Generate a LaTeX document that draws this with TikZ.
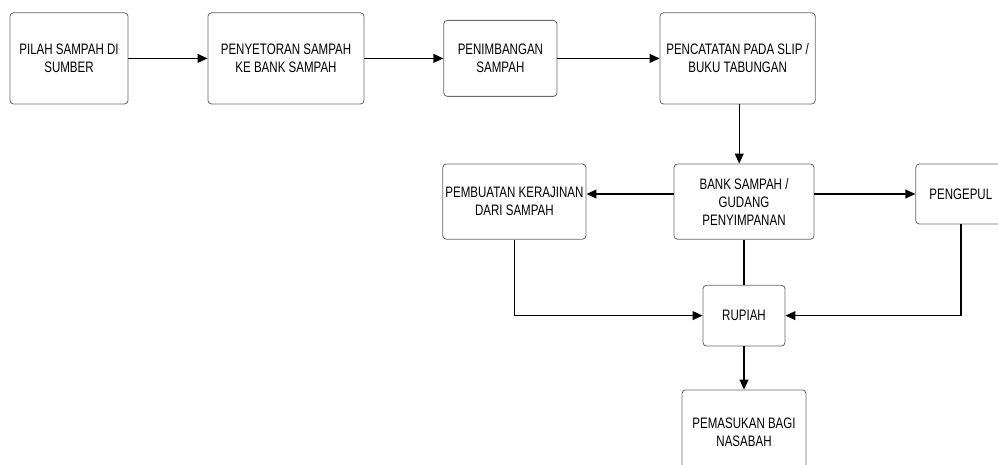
\documentclass[tikz,border=0pt]{standalone}
\usepackage{fontspec}
\setmainfont{Liberation Sans}[FakeStretch=0.76]
\usepackage{tikz}
\usetikzlibrary{positioning, calc}
\usetikzlibrary{arrows.meta}

\begin{document}
\begin{tikzpicture}[
  box/.style={draw=bordergray, line width=0.6pt, rounded corners=2.5pt, fill=white, align=center,
    inner sep=0pt, font=\fontsize{10.8}{12.8}\selectfont},
  flow/.style={line width=1pt, -{Triangle[length=2.5mm,width=2.2mm]}},
  plain/.style={line width=1pt}
]
\definecolor{bordergray}{RGB}{105,105,105};
\useasboundingbox (0,0) rectangle (24.95,-11.6);
% baris atas
\node[box, minimum width=2.95cm, minimum height=2.28cm] (pilah) at (1.725,-1.46) {PILAH SAMPAH DI\\SUMBER};
\node[box, minimum width=3.9cm, minimum height=2.28cm] (setor) at (7.15,-1.46) {PENYETORAN SAMPAH\\KE BANK SAMPAH};
\node[box, minimum width=2.83cm, minimum height=1.9cm] (timbang) at (12.51,-1.46) {PENIMBANGAN\\SAMPAH};
\node[box, minimum width=3.88cm, minimum height=2.28cm] (catat) at (18.44,-1.46) {PENCATATAN PADA SLIP /\\BUKU TABUNGAN};
% baris tengah
\node[box, minimum width=3.5cm, minimum height=1.88cm] (bank) at (18.6,-5.04) {BANK SAMPAH /\\GUDANG\\PENYIMPANAN};
\node[box, minimum width=3.58cm, minimum height=1.88cm] (kerajinan) at (12.86,-5.04) {PEMBUATAN KERAJINAN\\DARI SAMPAH};
\node[box, minimum width=2.25cm, minimum height=1.5cm] (pengepul) at (24.02,-4.85) {PENGEPUL};
% baris bawah
\node[box, minimum width=2.05cm, minimum height=1.52cm] (rupiah) at (18.6,-7.89) {RUPIAH};
\node[box, minimum width=3.1cm, minimum height=2.1cm] (masuk) at (18.6,-10.8) {PEMASUKAN BAGI\\NASABAH};
% panah
\draw[flow] (pilah.east) -- (setor.west);
\draw[flow] (setor.east) -- (timbang.west);
\draw[flow] (timbang.east) -- (catat.west);
\draw[flow] ([xshift=0.04cm]catat.south) -- ([xshift=0.04cm]catat.south |- bank.north);
\draw[flow] (bank.west |- pengepul) -- (kerajinan.east |- pengepul);
\draw[flow] (bank.east |- pengepul) -- (pengepul.west);
\draw[plain] (bank.south) -- (rupiah.north);
\draw[flow] (kerajinan.south) |- (rupiah.west);
\draw[flow] (pengepul.south) |- (rupiah.east);
\draw[flow] (rupiah.south) -- (masuk.north);
\end{tikzpicture}
\end{document}
